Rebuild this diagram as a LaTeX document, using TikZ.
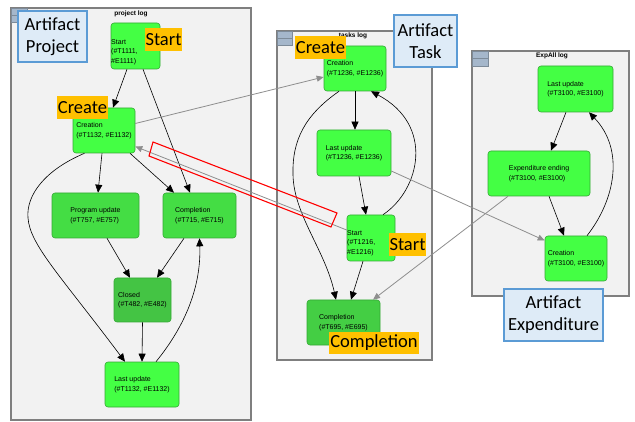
\documentclass[tikz,border=0pt]{standalone}
\usepackage{fontspec}
\setmainfont{Liberation Sans}
\newfontfamily\calib{Carlito}
\usetikzlibrary{arrows.meta}
\definecolor{panelfill}{HTML}{F2F2F2}
\definecolor{panelline}{HTML}{7F7F7F}
\definecolor{iconfill}{HTML}{A5B7CB}
\definecolor{iconline}{HTML}{7D8B99}
\definecolor{gbright}{HTML}{44FF44}
\definecolor{gmid}{HTML}{44DD44}
\definecolor{gdark}{HTML}{44C444}
\definecolor{gline}{HTML}{35A835}
\definecolor{tagfill}{HTML}{FFC000}
\definecolor{notefill}{HTML}{DEEBF7}
\definecolor{noteline}{HTML}{5B9BD5}
\definecolor{crossline}{HTML}{8E8E8E}
\begin{document}
\begin{tikzpicture}[x=1pt,y=-1pt,
  panel/.style={draw=panelline,fill=panelfill,line width=1.1pt},
  icon/.style={draw=iconline,fill=iconfill,line width=0.5pt},
  ptitle/.style={font=\fontsize{6.5}{7}\selectfont\bfseries,inner sep=0pt},
  box/.style={draw=gline,line width=0.6pt,rounded corners=3pt,inner sep=0pt,
    align=left,font=\fontsize{7}{9.5}\selectfont},
  boxtxt/.style={inner sep=0pt,align=left,font=\fontsize{7}{9.5}\selectfont,anchor=west},
  note/.style={draw=noteline,fill=notefill,line width=1.1pt,inner sep=0pt,
    align=center,font=\calib\fontsize{18.5}{22}\selectfont},
  tag/.style={fill=tagfill,inner sep=0pt,align=center,font=\calib\fontsize{18.5}{22}\selectfont},
  flow/.style={draw=black,line width=0.6pt,-{Triangle[length=8pt,width=7pt]}},
  cross/.style={draw=crossline,line width=0.8pt,-{Triangle[length=7pt,width=6pt]}},
  redframe/.style={draw=red,line width=1.1pt}]
\useasboundingbox (0,0) rectangle (635,422);

% ---------- log panels ----------
\draw[panel] (11,8) rectangle (251,420);
\draw[panel] (277,31) rectangle (432,360);
\draw[panel] (472,51) rectangle (629,296);
\draw[icon] (11,8) rectangle (27,22);  \draw[iconline,line width=0.5pt] (11,15) -- (27,15);
\draw[icon] (277,31) rectangle (292,45); \draw[iconline,line width=0.5pt] (277,38) -- (292,38);
\draw[icon] (472,51) rectangle (488,66); \draw[iconline,line width=0.5pt] (472,58.5) -- (488,58.5);
\node[ptitle] (t1) at (131,14) {project log};
\node[ptitle] (t2) at (353,36) {tasks log};
\node[ptitle] (t3) at (552,56) {ExpAll log};

% ---------- project log ----------
\node[box,fill=gbright,minimum width=49pt,minimum height=46pt] (pStart) at (135.5,46) {};
\node[boxtxt] (pStartT) at (111,52) {Start\\(\#T1111,\\\#E1111)};
\node[box,fill=gbright,minimum width=62pt,minimum height=45pt] (pCreate) at (104,130.5) {Creation\\(\#T1132, \#E1132)};
\node[box,fill=gmid,minimum width=87pt,minimum height=45pt] (pProg) at (95.5,215.5) {Program update\\(\#T757, \#E757)};
\node[box,fill=gmid,minimum width=73pt,minimum height=45pt] (pComp) at (199.5,215.5) {Completion\\(\#T715, \#E715)};
\node[box,fill=gdark,minimum width=57pt,minimum height=44pt] (pClosed) at (142.5,300) {Closed\\(\#T482, \#E482)};
\node[box,fill=gbright,minimum width=74pt,minimum height=45pt] (pLast) at (142,384.5) {Last update\\(\#T1132, \#E1132)};

% ---------- tasks log ----------
\node[box,fill=gbright,minimum width=62pt,minimum height=45pt] (tCreate) at (355,68.5) {Creation\\(\#T1236, \#E1236)};
\node[box,fill=gbright,minimum width=74pt,minimum height=46pt] (tLast) at (354,153) {Last update\\(\#T1236, \#E1236)};
\node[box,fill=gbright,minimum width=48pt,minimum height=46pt] (tStart) at (371,238) {};
\node[boxtxt] (tStartT) at (347,243) {Start\\(\#T1216,\\\#E1216)};
\node[box,fill=gdark!60!gmid,minimum width=73pt,minimum height=45pt] (tComp) at (343.5,322.5) {Completion\\(\#T695, \#E695)};

% ---------- ExpAll log ----------
\node[box,fill=gbright,minimum width=75pt,minimum height=46pt] (eLast) at (575.5,89) {Last update\\(\#T3100, \#E3100)};
\node[box,fill=gbright,minimum width=102pt,minimum height=45pt] (eEnd) at (539,173.5) {Expenditure ending\\(\#T3100, \#E3100)};
\node[box,fill=gbright,minimum width=62pt,minimum height=45pt] (eCreate) at (576,258.5) {Creation\\(\#T3100, \#E3100)};

% ---------- flows inside the project log ----------
\draw[flow] ([xshift=-8.5pt]pStart.south) -- ([xshift=9pt]pCreate.north);
\draw[flow] ([xshift=7.5pt]pStart.south) -- ([xshift=-9.5pt]pComp.north);
\draw[flow] ([xshift=-2pt]pCreate.south) -- ([xshift=2.5pt]pProg.north);
\draw[flow] ([xshift=26pt]pCreate.south) -- ([xshift=-25.5pt]pComp.north);
\draw[flow] ([xshift=-19.5pt]pCreate.south) .. controls (45,170) and (26,195) .. (28,218)
  .. controls (30,245) and (60,275) .. ([xshift=-17pt]pLast.north);
\draw[flow] ([xshift=11.5pt]pProg.south) -- ([xshift=-12.5pt]pClosed.north);
\draw[flow] ([xshift=-15.5pt]pComp.south) -- ([xshift=14.5pt]pClosed.north);
\draw[flow] (pClosed.south) -- (pLast.north);
\draw[flow] ([xshift=14pt]pLast.north) .. controls (190,320) and (201,280) .. (pComp.south);

% ---------- flows inside the tasks log ----------
\draw[flow] (tCreate.south) -- ([xshift=1pt]tLast.north);
\draw[flow] ([xshift=5pt]tLast.south) -- ([xshift=-5pt]tStart.north);
\draw[flow] ([xshift=-8pt]tStart.south) -- ([xshift=7.5pt]tComp.north);
\draw[flow] ([xshift=-16pt]tCreate.south) .. controls (305,115) and (292,140) .. (293,175)
  .. controls (294,215) and (325,250) .. ([xshift=-7.5pt]tComp.north);
\draw[flow] ([xshift=12pt]tStart.north) .. controls (420,190) and (435,125) .. ([xshift=16pt]tCreate.south);

% ---------- flows inside the ExpAll log ----------
\draw[flow] ([xshift=-9.5pt]eLast.south) -- ([xshift=12pt]eEnd.north);
\draw[flow] ([xshift=10pt]eEnd.south) -- ([xshift=-12pt]eCreate.north);
\draw[flow] ([xshift=11pt]eCreate.north) .. controls (615,200) and (625,150) .. ([xshift=13.5pt]eLast.south);

% ---------- links between logs ----------
\draw[cross] ([yshift=7pt]pCreate.east) -- ([yshift=-8.5pt]tCreate.west);
\draw[cross] ([yshift=8pt]tStart.west) -- ([yshift=-16pt]pCreate.east);
\draw[cross] ([yshift=-18pt]tLast.east) -- ([yshift=18pt]eCreate.west);
\draw[cross] ([xshift=-31pt]eEnd.south) -- ([xshift=29.5pt]tComp.north);

% highlighted link
\draw[redframe] (153,142) -- (337,213) -- (331,227) -- (149,156) -- cycle;

% ---------- artifact notes ----------
\node[note,minimum width=69pt,minimum height=51pt] (nProject) at (52.5,36.5) {Artifact\\Project};
\node[note,minimum width=63pt,minimum height=52pt] (nTask) at (425.5,41) {Artifact\\Task};
\node[note,minimum width=99pt,minimum height=52pt] (nExp) at (553.5,315) {Artifact\\Expenditure};

% ---------- activity tags ----------
\node[tag,minimum width=37pt,minimum height=23pt] (gStart1) at (163.5,39.5) {Start};
\node[tag,minimum width=51pt,minimum height=23pt] (gCreate1) at (82.5,107.5) {Create};
\node[tag,minimum width=51pt,minimum height=23pt] (gCreate2) at (320.5,47.5) {Create};
\node[tag,minimum width=37pt,minimum height=23pt] (gStart2) at (407.5,244.5) {Start};
\node[tag,minimum width=90pt,minimum height=22pt] (gComp) at (374,343) {Completion};
\end{tikzpicture}
\end{document}
